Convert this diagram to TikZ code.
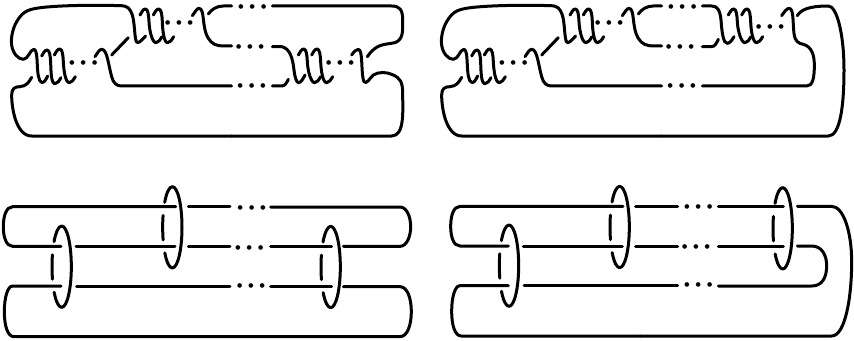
\documentclass[tikz,border=0pt]{standalone}
\usepackage{fontspec}
\setmainfont{Liberation Sans}
\newfontfamily\dotsfont{DejaVu Sans}
\newcommand{\dts}[2]{\node[dotsnode] at (#1,#2+7) {●\hspace{6.07pt}●\hspace{6.07pt}●};}
% one S-shaped strand of a twist region: start x, start y, width
\newcommand{\ess}[3]{\draw[knot] (#1,#2) .. controls ({#1+5},{#2-8}) and ({#1+9},{#2-18}) .. ({#1+16},{#2-18}) .. controls ({#1+24},{#2-18}) and ({#1+26},{#2}) .. ({#1+27},{#2+20}) .. controls ({#1+28},{#2+45}) and ({#1+#3-12},{#2+83}) .. ({#1+#3},{#2+83}) .. controls ({#1+#3+7},{#2+83}) and ({#1+#3+12},{#2+75}) .. ({#1+#3+18},{#2+65});}
% ring: centre x, centre y
\newcommand{\ring}[2]{%
  \draw[knot] (#1,#2+122) arc[start angle=90,end angle=-90,x radius=29,y radius=122];
  \draw[knot] (#1,#2+122) arc[start angle=90,end angle=141,x radius=29,y radius=122];
  \draw[knot] (#1,#2-122) arc[start angle=270,end angle=218,x radius=29,y radius=122];
  \draw[knot] ({#1+29*cos(162)},{#2+122*sin(162)}) arc[start angle=162,end angle=197,x radius=29,y radius=122];
}
\tikzset{
  knot/.style={line width=3pt,line cap=round,line join=round,black},
  dotsnode/.style={anchor=base,inner sep=0pt,font=\dotsfont\fontsize{6}{7}\selectfont}
}
\begin{document}
\begin{tikzpicture}[x=0.33333pt,y=-0.33333pt]
\useasboundingbox (0,0) rectangle (2562,1023);
% ---------- shared left part of the twisted diagrams
\foreach \sx in {0,1290}{
\begin{scope}[shift={(\sx,0)}]
\draw[knot] (437,108) .. controls (425,120) and (418,130) .. (411,127) .. controls (403,122) and (405,70) .. (397,45) .. controls (390,25) and (383,17) .. (360,17) .. controls (300,15) and (200,15) .. (130,22) .. controls (90,27) and (70,30) .. (50,65) .. controls (38,85) and (32,115) .. (35,135) .. controls (38,160) and (55,178) .. (70,178) .. controls (85,178) and (90,148) .. (102,148) .. controls (118,150) and (105,240) .. (125,247) .. controls (132,250) and (138,238) .. (143,228);
\ess{125}{168}{40}
\ess{163}{165}{45}
\dts{250}{188}
\draw[knot] (285,170) .. controls (292,160) and (298,148) .. (305,148) .. controls (322,148) and (325,195) .. (335,230) .. controls (340,250) and (350,258) .. (365,258) -- (695,258);
\draw[knot] (95,232) .. controls (85,250) and (78,258) .. (60,260) .. controls (45,260) and (35,265) .. (35,285) .. controls (35,330) and (50,408) .. (95,408) -- (695,408);
\draw[knot] (335,165) -- (385,113);
\ess{420}{45}{48}
\ess{460}{45}{43}
\dts{537}{68}
\draw[knot] (577,47) .. controls (585,37) and (590,25) .. (597,25) .. controls (615,25) and (605,85) .. (625,115) .. controls (635,132) and (650,138) .. (670,138) -- (695,138);
\draw[knot] (625,42) .. controls (635,28) and (650,18) .. (670,18) -- (695,18);
\dts{757}{18}
\end{scope}}
% ---------- top left, right part
\begin{scope}[shift={(630,0)}]
\dts{120}{140}
\dts{125}{255}
\draw[knot] (187,18) -- (545,18) .. controls (570,18) and (578,30) .. (578,60) .. controls (578,95) and (580,118) .. (555,128) .. controls (520,135) and (500,130) .. (472,170);
\draw[knot] (187,140) -- (215,140) .. controls (240,145) and (248,175) .. (252,210) .. controls (255,235) and (260,248) .. (266,248) .. controls (273,248) and (280,235) .. (285,225);
\ess{265}{165}{49}
\ess{305}{165}{45}
\dts{390}{188}
\draw[knot] (425,165) .. controls (432,155) and (438,148) .. (445,148) .. controls (460,148) and (452,225) .. (462,245) .. controls (470,255) and (478,235) .. (490,225) .. controls (505,215) and (530,215) .. (550,225) .. controls (570,235) and (578,245) .. (578,280) .. controls (578,330) and (585,408) .. (545,408) -- (65,408);
\draw[knot] (187,258) -- (215,258) .. controls (225,258) and (230,248) .. (235,238);
\end{scope}
% ---------- top right, right part
\begin{scope}[shift={(1920,0)}]
\dts{120}{140}
\dts{125}{255}
\draw[knot] (187,18) -- (215,18) .. controls (232,18) and (240,30) .. (243,60) .. controls (246,100) and (250,130) .. (262,130) .. controls (270,130) and (276,120) .. (282,110);
\ess{265}{45}{50}
\ess{305}{45}{45}
\dts{390}{80}
\draw[knot] (425,47) .. controls (432,37) and (440,25) .. (447,25) .. controls (462,25) and (458,70) .. (462,100) .. controls (465,125) and (475,130) .. (490,133) .. controls (515,140) and (523,165) .. (523,195) .. controls (523,235) and (518,258) .. (500,258) -- (187,258);
\draw[knot] (472,47) .. controls (482,30) and (505,18) .. (565,18) .. controls (590,18) and (612,100) .. (612,210) .. controls (612,320) and (600,408) .. (565,408) -- (65,408);
\draw[knot] (187,140) -- (215,140) .. controls (225,140) and (230,128) .. (235,118);
\end{scope}
% ---------- bottom left
\begin{scope}[shift={(0,525)}]
\draw[knot] (527,95) -- (38,95) .. controls (18,95) and (10,125) .. (10,155) .. controls (10,185) and (18,214) .. (38,214) -- (183,214);
\draw[knot] (183,333) -- (38,333) .. controls (22,333) and (13,370) .. (13,410) .. controls (13,450) and (22,485) .. (42,485) -- (690,485);
\draw[knot] (228,214) -- (525,214);
\draw[knot] (230,333) -- (690,333);
\draw[knot] (565,95) -- (690,95);
\draw[knot] (565,214) -- (690,214);
\ring{185}{275}
\ring{517}{157}
\end{scope}
\begin{scope}[shift={(630,525)}]
\dts{125}{96}
\dts{118}{215}
\dts{123}{330}
\draw[knot] (182,96) -- (570,96) .. controls (590,96) and (602,125) .. (602,155) .. controls (602,185) and (590,214) .. (570,214) -- (400,214);
\draw[knot] (182,214) -- (365,214);
\draw[knot] (182,335) -- (365,335);
\draw[knot] (400,335) -- (570,335) .. controls (592,335) and (604,370) .. (604,410) .. controls (604,450) and (592,485) .. (570,485) -- (60,485);
\ring{362}{276}
\end{scope}
% ---------- bottom right
\begin{scope}[shift={(1342,524)}]
\draw[knot] (527,95) -- (38,95) .. controls (18,95) and (10,125) .. (10,155) .. controls (10,185) and (18,214) .. (38,214) -- (183,214);
\draw[knot] (183,333) -- (38,333) .. controls (22,333) and (13,370) .. (13,410) .. controls (13,450) and (22,484) .. (42,484) -- (578,484);
\draw[knot] (228,214) -- (525,214);
\draw[knot] (230,333) -- (578,333);
\draw[knot] (565,95) -- (691,95);
\draw[knot] (565,214) -- (691,214);
\ring{185}{273}
\ring{517}{157}
\end{scope}
\begin{scope}[shift={(1920,525)}]
\dts{175}{93}
\dts{168}{213}
\dts{175}{327}
\draw[knot] (235,94) -- (430,94);
\draw[knot] (235,213) -- (430,213);
\draw[knot] (0,332) -- (113,332);
\draw[knot] (472,94) -- (575,94) .. controls (610,94) and (635,170) .. (635,260) .. controls (635,370) and (615,483) .. (575,483) -- (0,483);
\draw[knot] (472,213) -- (515,213) .. controls (545,213) and (560,240) .. (560,272) .. controls (560,310) and (545,333) .. (515,333) -- (235,333);
\ring{428}{160}
\end{scope}
\end{tikzpicture}
\end{document}
